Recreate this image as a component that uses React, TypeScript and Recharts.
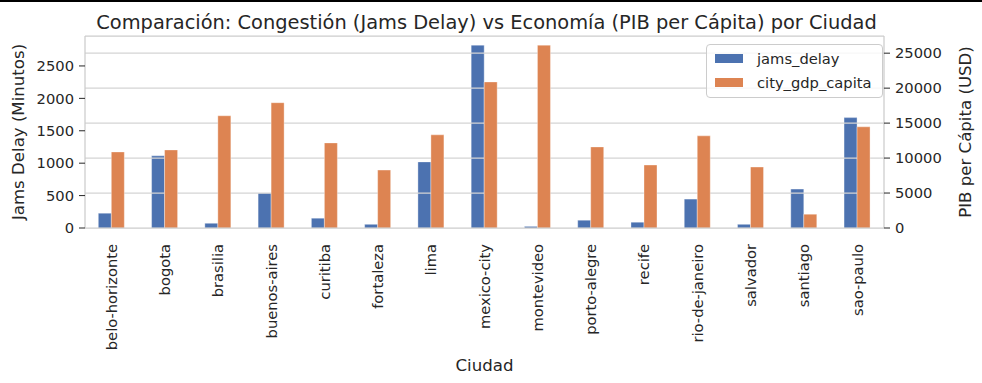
import { Bar, BarChart, Label, Legend, ReferenceLine, XAxis, YAxis } from "recharts";

const cities = [
  "belo-horizonte", "bogota", "brasilia", "buenos-aires", "curitiba", "fortaleza", "lima",
  "mexico-city", "montevideo", "porto-alegre", "recife", "rio-de-janeiro", "salvador", "santiago", "sao-paulo",
];
const jamsDelay = [228, 1113, 73, 539, 151, 57, 1020, 2821, 25, 120, 89, 446, 57, 601, 1703];
const gdpCapita = [10877, 11164, 16050, 17920, 12170, 8290, 13320, 20890, 26150, 11595, 9008, 13175, 8720, 1970, 14470];
const jamsTicks = [0, 500, 1000, 1500, 2000, 2500];
const gdpTicks = [0, 5000, 10000, 15000, 20000, 25000];

const data = cities.map((city, i) => ({
  city,
  jams_delay: jamsDelay[i],
  city_gdp_capita: gdpCapita[i],
}));

// matplotlib-style 5% headroom above the tallest bar
const jamsTop = Math.max(...jamsDelay) * 1.05;
const gdpTop = Math.max(...gdpCapita) * 1.05;

const font = "'DejaVu Sans', sans-serif";
const ink = "#262626";
const spine = "#cccccc";
const blue = "#4c72b0";
const orange = "#dd8452";
const tickStyle = { fontSize: 14.7, fill: ink, fontFamily: font };

function CityTick({ x, y, payload }: any) {
  return (
    <text
      transform={`translate(${x},${y + 16}) rotate(-90)`}
      textAnchor="end"
      dy="0.35em"
      fill={ink}
      fontSize={14.7}
      fontFamily={font}
    >
      {payload.value}
    </text>
  );
}

function LegendBox() {
  const items = [
    { name: "jams_delay", color: blue },
    { name: "city_gdp_capita", color: orange },
  ];
  return (
    <div
      style={{
        border: `1px solid ${spine}`,
        borderRadius: 4,
        background: "rgba(255,255,255,0.8)",
        padding: "1px 10px 3px 8px",
        fontFamily: font,
        fontSize: 14.7,
        color: ink,
      }}
    >
      {items.map((it) => (
        <div key={it.name} style={{ display: "flex", alignItems: "center", height: 24 }}>
          <span style={{ display: "inline-block", width: 28, height: 9, background: it.color, marginRight: 14 }} />
          <span>{it.name}</span>
        </div>
      ))}
    </div>
  );
}

export default function App() {
  return (
    <div style={{ position: "absolute", left: 0, top: 0, width: 982, height: 383, background: "#fff" }}>
      <div style={{ position: "absolute", left: 0, top: 0, width: 982, height: 2, background: "#000" }} />
      <svg style={{ position: "absolute", left: 0, top: 0 }} width={982} height={36}>
        <text x={486.5} y={29} textAnchor="middle" fill={ink} fontSize={19.4} fontFamily={font}>
          Comparación: Congestión (Jams Delay) vs Economía (PIB per Cápita) por Ciudad
        </text>
      </svg>
      <BarChart
        style={{ position: "absolute", left: 0, top: 0 }}
        width={982}
        height={383}
        data={data}
        margin={{ top: 36, right: 0, bottom: 0, left: 0 }}
        barCategoryGap="25%"
        barGap={0}
      >
        <XAxis
          dataKey="city"
          height={155}
          interval={0}
          tickLine={false}
          tickSize={0}
          tickMargin={0}
          axisLine={{ stroke: spine, strokeWidth: 1.25 }}
          tick={<CityTick />}
        >
          <Label value="Ciudad" position="center" dy={60} fill={ink} fontSize={16.6} fontFamily={font} />
        </XAxis>
        <YAxis
          yAxisId="left"
          width={85}
          domain={[0, jamsTop]}
          ticks={jamsTicks}
          interval={0}
          tick={tickStyle}
          tickSize={6}
          tickMargin={5}
          tickLine={{ stroke: ink }}
          axisLine={{ stroke: spine, strokeWidth: 1.25 }}
        >
          <Label value="Jams Delay (Minutos)" angle={-90} position="center" dx={-24.5} fill={ink} fontSize={16.6} fontFamily={font} />
        </YAxis>
        <YAxis
          yAxisId="right"
          orientation="right"
          width={98}
          domain={[0, gdpTop]}
          ticks={gdpTicks}
          interval={0}
          tick={tickStyle}
          tickSize={6}
          tickMargin={5}
          tickLine={{ stroke: ink }}
          axisLine={{ stroke: spine, strokeWidth: 1.25 }}
        >
          <Label value="PIB per Cápita (USD)" angle={-90} position="center" dx={32} fill={ink} fontSize={16.6} fontFamily={font} />
        </YAxis>
        <Bar
          yAxisId="left"
          dataKey="jams_delay"
          fill={blue}
          stroke="#ffffff"
          strokeOpacity={0.35}
          isAnimationActive={false}
          zIndex={300}
        />
        {gdpTicks.slice(1).map((t) => (
          <ReferenceLine key={t} yAxisId="right" y={t} stroke="#d4d4d4" strokeWidth={1.25} zIndex={310} />
        ))}
        <Bar
          yAxisId="right"
          dataKey="city_gdp_capita"
          fill={orange}
          stroke="#ffffff"
          strokeOpacity={0.35}
          isAnimationActive={false}
          zIndex={320}
        />
        <ReferenceLine yAxisId="left" y={jamsTop} stroke={spine} strokeWidth={1.25} zIndex={500} />
        <Legend
          layout="horizontal"
          verticalAlign="middle"
          align="center"
          content={<LegendBox />}
          wrapperStyle={{ position: "absolute", left: 706, top: 44, width: "auto", height: "auto" }}
        />
      </BarChart>
    </div>
  );
}
